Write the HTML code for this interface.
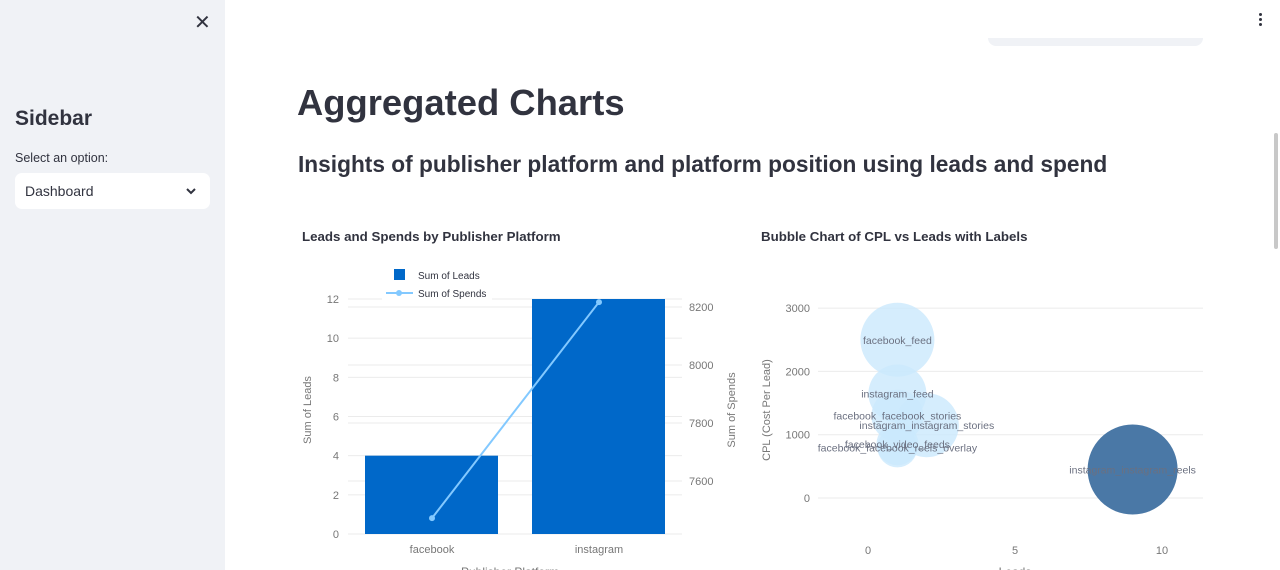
<!DOCTYPE html>
<html><head><meta charset="utf-8">
<style>
*{box-sizing:border-box;margin:0;padding:0}
body{width:1280px;height:570px;overflow:hidden;background:#fff;font-family:"Liberation Sans","DejaVu Sans",sans-serif;position:relative;color:#31333f}
#sidebar{position:absolute;left:0;top:0;width:225px;height:570px;background:#f0f2f6}
.abs{position:absolute}
</style></head><body>
<div id="sidebar">
  <div class="abs" style="left:194px;top:10px;font-size:20px;color:#31333f">✕</div>
  <div class="abs" style="left:15px;top:107px;font-size:21px;font-weight:bold">Sidebar</div>
  <div class="abs" style="left:15px;top:151px;font-size:12.5px">Select an option:</div>
  <div class="abs" style="left:15px;top:173px;width:195px;height:36px;background:#fff;border-radius:7px">
    <span class="abs" style="left:10px;top:10px;font-size:14px">Dashboard</span>
    <svg class="abs" style="left:170px;top:13px" width="12" height="10"><path d="M2 3 L6 7 L10 3" stroke="#31333f" stroke-width="2" fill="none"/></svg>
  </div>
</div>
<div class="abs" style="left:988px;top:38px;width:215px;height:8px;background:#f0f2f6;border-radius:0 0 8px 8px"></div>
<div class="abs" style="left:1256px;top:12px;width:8px;height:16px">
  <div style="width:3px;height:3px;background:#31333f;border-radius:50%;margin:1px auto 2px"></div>
  <div style="width:3px;height:3px;background:#31333f;border-radius:50%;margin:0 auto 2px"></div>
  <div style="width:3px;height:3px;background:#31333f;border-radius:50%;margin:0 auto"></div>
</div>
<div class="abs" style="left:1274px;top:133px;width:4px;height:116px;background:#c8c8c8;border-radius:2px"></div>
<div class="abs" style="left:297px;top:82px;font-size:36.4px;font-weight:bold">Aggregated Charts</div>
<div class="abs" style="left:298px;top:151px;font-size:22.7px;font-weight:bold">Insights of publisher platform and platform position using leads and spend</div>
<div class="abs" style="left:302px;top:229px;font-size:13.3px;font-weight:bold">Leads and Spends by Publisher Platform</div>
<div class="abs" style="left:761px;top:229px;font-size:13.3px;font-weight:bold">Bubble Chart of CPL vs Leads with Labels</div>
<svg id="charts" class="abs" style="left:0;top:0" width="1280" height="570" font-family="Liberation Sans, sans-serif"></svg>
<script>
const platforms=["facebook","instagram"];
const leads=[4,12];
const spends=[7472,8217];
const leftTicks=[0,2,4,6,8,10,12];
const rightTicks=[7600,7800,8000,8200];
const bubbleLabels=["facebook_feed","instagram_feed","facebook_facebook_stories","instagram_instagram_stories","facebook_video_feeds","facebook_facebook_reels_overlay","instagram_instagram_reels"];
const bubbleLeads=[1,1,1,2,1,1,9];
const bubbleCPL=[2500,1650,1300,1150,850,800,450];
const bubbleSize=[37,29,26,32,21,20,45];
const xTicks=[0,5,10];
const yTicks=[0,1000,2000,3000];

const svg=document.getElementById('charts');
const NS='http://www.w3.org/2000/svg';
function mk(t,a,txt){const e=document.createElementNS(NS,t);for(const k in a)e.setAttribute(k,a[k]);if(txt!==undefined)e.textContent=txt;svg.appendChild(e);return e;}
const yL=v=>534-v*(235/12);
const yR=v=>481-(v-7600)*0.29;
const xB=i=>432+i*167;
leftTicks.forEach(t=>{let g=mk('line',{x1:348,x2:682,y1:yL(t),y2:yL(t),stroke:'#ebebeb'});
let l=mk('text',{x:339,y:yL(t)+4,'font-size':11,fill:'#777','text-anchor':'end'},t);});
rightTicks.forEach(t=>{let g=mk('line',{x1:348,x2:682,y1:yR(t),y2:yR(t),stroke:'#ebebeb'});
let l=mk('text',{x:689,y:yR(t)+4,'font-size':11,fill:'#777'},t);});
platforms.forEach((p,i)=>{let b=mk('rect',{x:xB(i)-67,y:yL(leads[i]),width:133,height:534-yL(leads[i]),fill:'#0068c9'});
let l=mk('text',{x:xB(i),y:553,'font-size':11,fill:'#777','text-anchor':'middle'},p);});
let pts=platforms.map((p,i)=>xB(i)+','+yR(spends[i])).join(' ');
let ln=mk('polyline',{points:pts,fill:'none',stroke:'#83c9ff','stroke-width':2});
platforms.forEach((p,i)=>{let c=mk('circle',{cx:xB(i),cy:yR(spends[i]),r:3,fill:'#83c9ff'});});
let t1=mk('text',{x:311,y:410,'font-size':11,fill:'#777','text-anchor':'middle',transform:'rotate(-90 311 410)'},'Sum of Leads');
let t2=mk('text',{x:735,y:410,'font-size':11,fill:'#777','text-anchor':'middle',transform:'rotate(-90 735 410)'},'Sum of Spends');
let t3=mk('text',{x:510,y:576,'font-size':12,fill:'#777','text-anchor':'middle'},'Publisher Platform');
let lg=mk('rect',{x:382,y:264,width:110,height:38,fill:'#fff'});
let ls=mk('rect',{x:394,y:269,width:11,height:11,fill:'#0068c9'});
let lt=mk('text',{x:418,y:279,'font-size':10,fill:'#31333f'},'Sum of Leads');
let ll=mk('line',{x1:386,x2:413,y1:293,y2:293,stroke:'#83c9ff','stroke-width':2});
mk('circle',{cx:399,cy:293,r:3,fill:'#83c9ff'});
let lt2=mk('text',{x:418,y:297,'font-size':10,fill:'#31333f'},'Sum of Spends');
const bx=v=>868+v*29.4;
const by=v=>498-v*0.0633;
yTicks.forEach(t=>{let g=mk('line',{x1:818,x2:1203,y1:by(t),y2:by(t),stroke:'#ebebeb'});
let l=mk('text',{x:810,y:by(t)+4,'font-size':11,fill:'#777','text-anchor':'end'},t);});
xTicks.forEach(t=>{let l=mk('text',{x:bx(t),y:554,'font-size':11,fill:'#777','text-anchor':'middle'},t);});
bubbleLabels.forEach((n,i)=>{const dark=bubbleLeads[i]>=5;let c=mk('circle',{cx:bx(bubbleLeads[i]),cy:by(bubbleCPL[i]),r:bubbleSize[i],fill:dark?'#4a78a6':'#cbe9fc','fill-opacity':dark?1:0.8});});
bubbleLabels.forEach((n,i)=>{let l=mk('text',{x:bx(bubbleLeads[i]),y:by(bubbleCPL[i])+4,'font-size':10.5,fill:'#6b7080','text-anchor':'middle'},n);});
let t4=mk('text',{x:770,y:410,'font-size':11,fill:'#777','text-anchor':'middle',transform:'rotate(-90 770 410)'},'CPL (Cost Per Lead)');
let t5=mk('text',{x:1015,y:576,'font-size':12,fill:'#777','text-anchor':'middle'},'Leads');
</script>
</body></html>
